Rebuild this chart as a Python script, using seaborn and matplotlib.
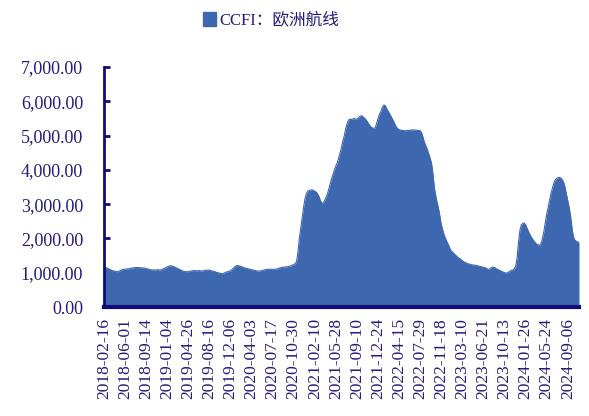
import matplotlib
matplotlib.use("Agg")
import matplotlib.pyplot as plt
from matplotlib.patches import Patch
import seaborn as sns
import pandas as pd
import numpy as np

# ---- data ----
tick_labels = [
    "2018-02-16", "2018-06-01", "2018-09-14", "2019-01-04", "2019-04-26",
    "2019-08-16", "2019-12-06", "2020-04-03", "2020-07-17", "2020-10-30",
    "2021-02-10", "2021-05-28", "2021-09-10", "2021-12-24", "2022-04-15",
    "2022-07-29", "2022-11-18", "2023-03-10", "2023-06-21", "2023-10-13",
    "2024-01-26", "2024-05-24", "2024-09-06",
]

ccfi_europe = [
    1160, 1150, 1140, 1120, 1100, 1080, 1060, 1050, 1040, 1030,
    1030, 1050, 1070, 1090, 1100, 1100, 1110, 1110, 1120, 1130,
    1140, 1140, 1150, 1150, 1150, 1150, 1145, 1140, 1140, 1130,
    1120, 1110, 1100, 1090, 1080, 1080, 1080, 1080, 1090, 1080,
    1080, 1090, 1110, 1130, 1150, 1170, 1190, 1200, 1200, 1190,
    1170, 1150, 1130, 1110, 1090, 1070, 1050, 1040, 1030, 1030,
    1030, 1040, 1050, 1060, 1060, 1060, 1050, 1060, 1060, 1050,
    1050, 1060, 1070, 1070, 1080, 1070, 1060, 1050, 1040, 1030,
    1010, 1000, 990, 980, 970, 980, 1000, 1020, 1030, 1040,
    1060, 1090, 1130, 1170, 1200, 1210, 1200, 1190, 1170, 1160,
    1140, 1130, 1120, 1110, 1100, 1090, 1080, 1070, 1060, 1050,
    1050, 1050, 1060, 1070, 1080, 1090, 1100, 1100, 1100, 1100,
    1100, 1100, 1100, 1110, 1120, 1140, 1150, 1160, 1160, 1170,
    1170, 1180, 1190, 1200, 1220, 1240, 1260, 1320,
    1600, 2000, 2300, 2600, 2900, 3150, 3300, 3380, 3400, 3410, 3420, 3400,
    3380, 3350, 3300, 3220, 3100, 3030, 3040, 3100, 3200, 3300,
    3450, 3600, 3750, 3880, 4000, 4120, 4200, 4350, 4500, 4650,
    4850, 5000, 5200, 5350, 5450, 5480, 5470, 5480, 5500, 5480, 5480,
    5520, 5560, 5580, 5560, 5520, 5480, 5430, 5360, 5300, 5250, 5220, 5210,
    5230, 5350, 5500, 5620,
    5700, 5820, 5890, 5880, 5800, 5720, 5650, 5580, 5500, 5420, 5330, 5250,
    5200, 5170, 5160, 5150, 5150, 5140, 5140,
    5150, 5150, 5160, 5160, 5170, 5160, 5160, 5150, 5150, 5140,
    5080, 4950, 4800, 4700, 4600, 4480, 4350, 4200, 3900, 3500,
    3250, 3050, 2880, 2650, 2400, 2250, 2100, 2000, 1900, 1820,
    1720, 1640, 1600, 1560, 1520, 1480, 1440, 1420, 1380, 1350,
    1320, 1300, 1280, 1260, 1250,
    1240, 1230, 1225, 1220, 1210, 1200, 1190, 1180, 1170, 1160,
    1150, 1130, 1100, 1100, 1130, 1160, 1160, 1150, 1120, 1100, 1080,
    1060, 1040, 1020, 1000, 990, 1000, 1020, 1050, 1070, 1080,
    1120, 1200, 1450, 1900, 2250, 2400, 2440, 2450, 2400, 2300,
    2200, 2120, 2040, 1980, 1920, 1870, 1830, 1810, 1800, 1850,
    2000, 2200, 2450, 2700, 2900, 3100, 3300, 3450, 3600,
    3700, 3750, 3770, 3780, 3760, 3720, 3640, 3500, 3300, 3100,
    2900, 2650, 2300, 2050, 1950, 1920, 1900, 1880,
]

series_name = "CCFI：欧洲航线"

# ---- style ----
sns.set_theme(style="white")
plt.rcParams["font.family"] = ["Liberation Serif", "Noto Sans CJK SC", "DejaVu Sans"]
plt.rcParams["axes.unicode_minus"] = False

fill_color = "#3D67AF"
axis_color = "#100C78"
text_color = "#231C7C"

df = pd.DataFrame({"idx": np.arange(len(ccfi_europe)), "value": ccfi_europe})

fig = plt.figure(figsize=(5.89, 4.16), dpi=100)
ax = fig.add_axes([104 / 589, 1 - 307 / 416, (579 - 104) / 589, 240 / 416])

sns.lineplot(data=df, x="idx", y="value", ax=ax, color=fill_color, linewidth=0.8)
ax.fill_between(df["idx"], 0, df["value"], color=fill_color, linewidth=0)

ax.set_xlim(0, len(ccfi_europe) - 1)
ax.set_ylim(0, 7000)
ax.set_yticks(np.arange(0, 7001, 1000))
ax.set_yticklabels([f"{v:,.2f}" for v in np.arange(0, 7001, 1000)])
pos = np.arange(0, 15 * len(tick_labels), 15)
ax.set_xticks(pos)
ax.set_xticklabels(tick_labels, rotation=90)
ax.set_xlabel("")
ax.set_ylabel("")

for s in ["top", "right"]:
    ax.spines[s].set_visible(False)
ax.spines["left"].set_color(axis_color)
ax.spines["left"].set_linewidth(2)
ax.spines["bottom"].set_color(axis_color)
ax.spines["bottom"].set_linewidth(3)

ax.tick_params(axis="y", direction="in", length=4, width=2, color=axis_color,
               labelsize=13, labelcolor=text_color, pad=15, left=True)
ax.tick_params(axis="x", length=0, labelsize=12.5, labelcolor=text_color, pad=8)

handle = Patch(facecolor=fill_color, edgecolor=fill_color)
fig.legend([handle], [series_name], loc="center", bbox_to_anchor=(271 / 589, 1 - 20 / 416),
           frameon=False, fontsize=12, handlelength=0.8, handleheight=0.9,
           handletextpad=0.15, labelcolor=text_color)

fig.savefig("out.png", dpi=100)
